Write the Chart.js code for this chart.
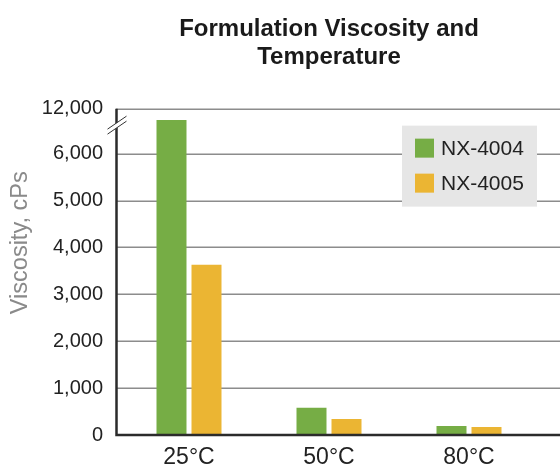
<!DOCTYPE html>
<html>
<head>
<meta charset="utf-8">
<script src="https://cdn.jsdelivr.net/npm/chart.js@4/dist/chart.umd.min.js"></script>
<style>
  html, body { margin: 0; padding: 0; background: #fff; }
  #wrap { width: 560px; height: 468px; position: relative; }
</style>
</head>
<body>
<div id="wrap"><canvas id="c" width="560" height="468"></canvas></div>
<script>
// Viscosity (cPs) of two formulations at three temperatures
const temperatures = ['25°C', '50°C', '80°C'];
const seriesNames = ['NX-4004', 'NX-4005'];
const nx4004 = [10500, 580, 190];
const nx4005 = [3630, 340, 170];
const yTicks = [0, 1000, 2000, 3000, 4000, 5000, 6000, 12000];
const yAxisTitle = 'Viscosity, cPs';
const breakAt = 6000;   // axis is compressed above this value
const axisMax = 12000;

const GREEN = '#76ad45';
const YELLOW = '#ebb533';
const FONT = "'Liberation Sans', Arial, Helvetica, sans-serif";

// Linear scale with a compressed segment above the break value
class BrokenLinearScale extends Chart.LinearScale {
  static id = 'brokenLinear';
  static defaults = Chart.LinearScale.defaults;
  buildTicks() {
    return yTicks.map(v => ({ value: v }));
  }
  _lowerShare() { return 0.862; }
  getPixelForValue(value) {
    const s = this._lowerShare();
    let d;
    if (value <= breakAt) d = (value / breakAt) * s;
    else d = s + ((value - breakAt) / (axisMax - breakAt)) * (1 - s);
    return this.getPixelForDecimal(d);
  }
  getValueForPixel(pixel) {
    const s = this._lowerShare();
    const d = this.getDecimalForPixel(pixel);
    if (d <= s) return (d / s) * breakAt;
    return breakAt + ((d - s) / (1 - s)) * (axisMax - breakAt);
  }
}
Chart.register(BrokenLinearScale);

// Gridlines across to the right edge, axes, break marks, axis title and legend box
const decorations = {
  id: 'decorations',
  beforeDatasetsDraw(chart) {
    const { ctx, chartArea, scales } = chart;
    const y = scales.y;
    ctx.save();
    ctx.strokeStyle = '#8c8c8c';
    ctx.lineWidth = 1.5;
    yTicks.forEach(v => {
      if (v === 0) return;
      const py = Math.round(y.getPixelForValue(v)) + 0.25;
      ctx.beginPath();
      ctx.moveTo(chartArea.left - 3, py);
      ctx.lineTo(chart.width, py);
      ctx.stroke();
    });
    ctx.restore();
  },
  afterDatasetsDraw(chart) {
    const { ctx, chartArea, scales } = chart;
    const y = scales.y;
    const x0 = chartArea.left - 2.5;
    const yBase = y.getPixelForValue(0);
    const yTop = y.getPixelForValue(axisMax);
    ctx.save();
    ctx.strokeStyle = '#2b2b2b';
    ctx.lineWidth = 2.5;
    ctx.beginPath();
    ctx.moveTo(x0, yTop);
    ctx.lineTo(x0, yBase);
    ctx.lineTo(chart.width, yBase);
    ctx.stroke();

    // break symbol on the value axis
    const yb = y.getPixelForValue(9800);
    ctx.fillStyle = '#ffffff';
    ctx.beginPath();
    ctx.moveTo(x0 - 9, yb + 4);
    ctx.lineTo(x0 + 10, yb - 9);
    ctx.lineTo(x0 + 10, yb - 4);
    ctx.lineTo(x0 - 9, yb + 9);
    ctx.closePath();
    ctx.fill();
    ctx.strokeStyle = '#333';
    ctx.lineWidth = 1;
    ctx.beginPath();
    ctx.moveTo(x0 - 9, yb + 4);
    ctx.lineTo(x0 + 10, yb - 9);
    ctx.moveTo(x0 - 9, yb + 9);
    ctx.lineTo(x0 + 10, yb - 4);
    ctx.stroke();

    // value axis title
    ctx.save();
    ctx.translate(21, y.getPixelForValue(4100));
    ctx.rotate(-Math.PI / 2);
    ctx.font = '23.5px ' + FONT;
    ctx.fillStyle = '#8a8a8a';
    ctx.textAlign = 'center';
    ctx.textBaseline = 'middle';
    ctx.fillText(yAxisTitle, 0, 0);
    ctx.restore();

    // legend
    const bx = 402, by = chartArea.top + 17;
    ctx.fillStyle = '#e6e6e6';
    ctx.fillRect(bx, by, 135, 81);
    ctx.font = '21px ' + FONT;
    ctx.textBaseline = 'middle';
    chart.data.datasets.forEach((ds, i) => {
      const iy = by + 13 + i * 35;
      ctx.fillStyle = ds.backgroundColor;
      ctx.fillRect(bx + 13, iy, 19, 19);
      ctx.fillStyle = '#222';
      ctx.fillText(ds.label, bx + 39, iy + 10.5);
    });
    ctx.restore();
  }
};

new Chart(document.getElementById('c'), {
  type: 'bar',
  data: {
    labels: temperatures,
    datasets: [
      { label: seriesNames[0], data: nx4004, backgroundColor: GREEN },
      { label: seriesNames[1], data: nx4005, backgroundColor: YELLOW }
    ]
  },
  options: {
    responsive: false,
    animation: false,
    devicePixelRatio: 1,
    layout: { padding: { left: 0, right: 21, top: 0, bottom: 0 } },
    categoryPercentage: 0.5,
    barPercentage: 0.857,
    plugins: {
      legend: { display: false },
      tooltip: { enabled: false },
      title: {
        display: true,
        fullSize: false,
        text: ['Formulation Viscosity and', 'Temperature'],
        color: '#1a1a1a',
        font: { family: FONT, size: 24, weight: 'bold', lineHeight: 1.18 },
        padding: { top: 15, bottom: 37 }
      }
    },
    scales: {
      x: {
        afterFit(scale) { scale.height = 33; },
        grid: { display: false, drawTicks: false },
        border: { display: false },
        ticks: { color: '#222', font: { family: FONT, size: 23 }, padding: 9 }
      },
      y: {
        type: 'brokenLinear',
        min: 0,
        max: axisMax,
        afterFit(scale) { scale.width = 119; },
        grid: { display: false, drawTicks: false },
        border: { display: false },
        ticks: { color: '#222', font: { family: FONT, size: 20 }, padding: 16 }
      }
    }
  },
  plugins: [decorations]
});
</script>
</body>
</html>
